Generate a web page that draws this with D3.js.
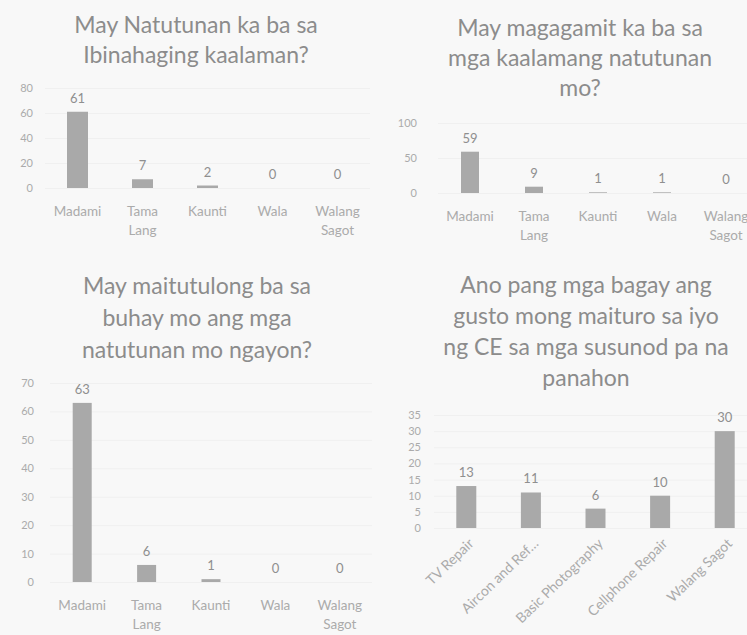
<!DOCTYPE html>
<html>
<head>
<meta charset="utf-8">
<script src="https://cdn.jsdelivr.net/npm/d3@7"></script>
<style>
  body { margin: 0; background: #f8f8f8; }
  svg { display: block; font-family: "Lato", "Open Sans", sans-serif; }
  .title { fill: #8c8c8c; font-size: 23px; }
  .tick text { fill: #ababab; }
  .vLabel { fill: #8f8f8f; font-size: 13px; }
</style>
</head>
<body>
<div id="charts"></div>
<script>
//Chart data - four survey questions
var answerCats = ["Madami", "Tama Lang", "Kaunti", "Wala", "Walang Sagot"];

var titleOne = ["May Natutunan ka ba sa", "Ibinahaging kaalaman?"];
var valuesOne = [61, 7, 2, 0, 0];
var ticksOne = [0, 20, 40, 60, 80];

var titleTwo = ["May magagamit ka ba sa", "mga kaalamang natutunan", "mo?"];
var valuesTwo = [59, 9, 1, 1, 0];
var ticksTwo = [0, 50, 100];

var titleThree = ["May maitutulong ba sa", "buhay mo ang mga", "natutunan mo ngayon?"];
var valuesThree = [63, 6, 1, 0, 0];
var ticksThree = [0, 10, 20, 30, 40, 50, 60, 70];

var titleFour = ["Ano pang mga bagay ang", "gusto mong maituro sa iyo", "ng CE sa mga susunod pa na", "panahon"];
var topicCats = ["TV Repair", "Aircon and Ref…", "Basic Photography", "Cellphone Repair", "Walang Sagot"];
var valuesFour = [13, 11, 6, 10, 30];
var ticksFour = [0, 5, 10, 15, 20, 25, 30, 35];

//Set up the svg
var width = 747;
var height = 635;

var svg = d3
  .select("#charts")
  .append("svg")
  .attr("width", width)
  .attr("height", height);

svg.append("rect")
  .attr("width", width)
  .attr("height", height)
  .attr("fill", "#f8f8f8");

//One function draws each small bar chart
function drawChart(c) {
	var g = svg.append("g");

	//title lines
	g.selectAll(".title")
	  .data(c.title)
	  .enter()
	  .append("text")
	  .attr("class", "title")
	  .attr("x", c.titleX)
	  .attr("y", function(d, i) { return c.titleY + i * c.titleGap; })
	  .attr("text-anchor", "middle")
	  .text(function(d) { return d; });

	var x = d3.scaleBand()
	  .domain(c.cats)
	  .range([c.left, c.right])
	  .padding(0);

	var y = d3.scaleLinear()
	  .domain([0, d3.max(c.ticks)])
	  .range([c.bottom, c.top]);

	//faint gridlines
	g.append("g")
	  .attr("transform", "translate(" + c.left + ",0)")
	  .call(d3.axisLeft(y).tickValues(c.ticks).tickSize(-(c.right - c.left)).tickFormat(""))
	  .call(function(s) {
	  	s.select(".domain").remove();
	  	s.selectAll("line").attr("stroke", "#f0f0f0");
	  });

	//y axis labels
	g.append("g")
	  .attr("transform", "translate(" + c.axisX + ",0)")
	  .call(d3.axisLeft(y).tickValues(c.ticks).tickSize(0).tickPadding(0))
	  .call(function(s) {
	  	s.select(".domain").remove();
	  	s.selectAll("text")
	  	  .attr("font-family", "Lato, sans-serif")
	  	  .attr("font-size", c.tickSize);
	  });

	//bars
	g.selectAll(".bar")
	  .data(c.values)
	  .enter()
	  .append("rect")
	  .attr("class", "bar")
	  .attr("x", function(d, i) { return x(c.cats[i]) + x.bandwidth() / 2 - c.barW / 2; })
	  .attr("y", function(d) { return y(d); })
	  .attr("width", c.barW)
	  .attr("height", function(d) { return c.bottom - y(d); })
	  .attr("fill", "#a9a9a9");

	//value labels above the bars
	g.selectAll(".vLabel")
	  .data(c.values)
	  .enter()
	  .append("text")
	  .attr("class", "vLabel")
	  .attr("x", function(d, i) { return x(c.cats[i]) + x.bandwidth() / 2; })
	  .attr("y", function(d) { return y(d) - 9; })
	  .attr("text-anchor", "middle")
	  .text(function(d) { return d; });

	//x axis labels
	var xAxis = g.append("g")
	  .attr("transform", "translate(0," + c.bottom + ")")
	  .call(d3.axisBottom(x).tickSize(0).tickPadding(0));
	xAxis.select(".domain").remove();

	var labels = xAxis.selectAll("text")
	  .attr("fill", "#9c9c9c")
	  .attr("font-family", "Lato, sans-serif")
	  .attr("font-size", c.labelSize);

	if (c.rotate) {
		labels
		  .attr("y", 0)
		  .attr("dy", "0.35em")
		  .attr("text-anchor", "end")
		  .attr("transform", "translate(5,13) rotate(-44)");
	}
	else {
		labels.each(function() {
			var t = d3.select(this);
			var words = t.text().split(" ");
			t.text(null).attr("y", 0).attr("dy", null);
			words.forEach(function(w, i) {
				t.append("tspan")
				  .attr("x", 0)
				  .attr("y", c.labelY + i * 19)
				  .text(w);
			});
		});
	}
}

drawChart({
	title: titleOne, cats: answerCats, values: valuesOne, ticks: ticksOne,
	titleX: 196, titleY: 33, titleGap: 30,
	left: 45, right: 370, top: 88, bottom: 188, axisX: 33, barW: 21,
	tickSize: 11, labelSize: 13.5, labelY: 28
});

drawChart({
	title: titleTwo, cats: answerCats, values: valuesTwo, ticks: ticksTwo,
	titleX: 580, titleY: 36, titleGap: 30,
	left: 438, right: 758, top: 123, bottom: 193, axisX: 417, barW: 18,
	tickSize: 11, labelSize: 13.5, labelY: 28
});

drawChart({
	title: titleThree, cats: answerCats, values: valuesThree, ticks: ticksThree,
	titleX: 197, titleY: 294, titleGap: 32,
	left: 50, right: 372, top: 383, bottom: 582, axisX: 34, barW: 19,
	tickSize: 11, labelSize: 13.5, labelY: 28
});

drawChart({
	title: titleFour, cats: topicCats, values: valuesFour, ticks: ticksFour,
	titleX: 586, titleY: 293, titleGap: 31,
	left: 434, right: 757, top: 415, bottom: 528, axisX: 421, barW: 20,
	tickSize: 11, labelSize: 14, rotate: true
});
</script>
</body>
</html>
